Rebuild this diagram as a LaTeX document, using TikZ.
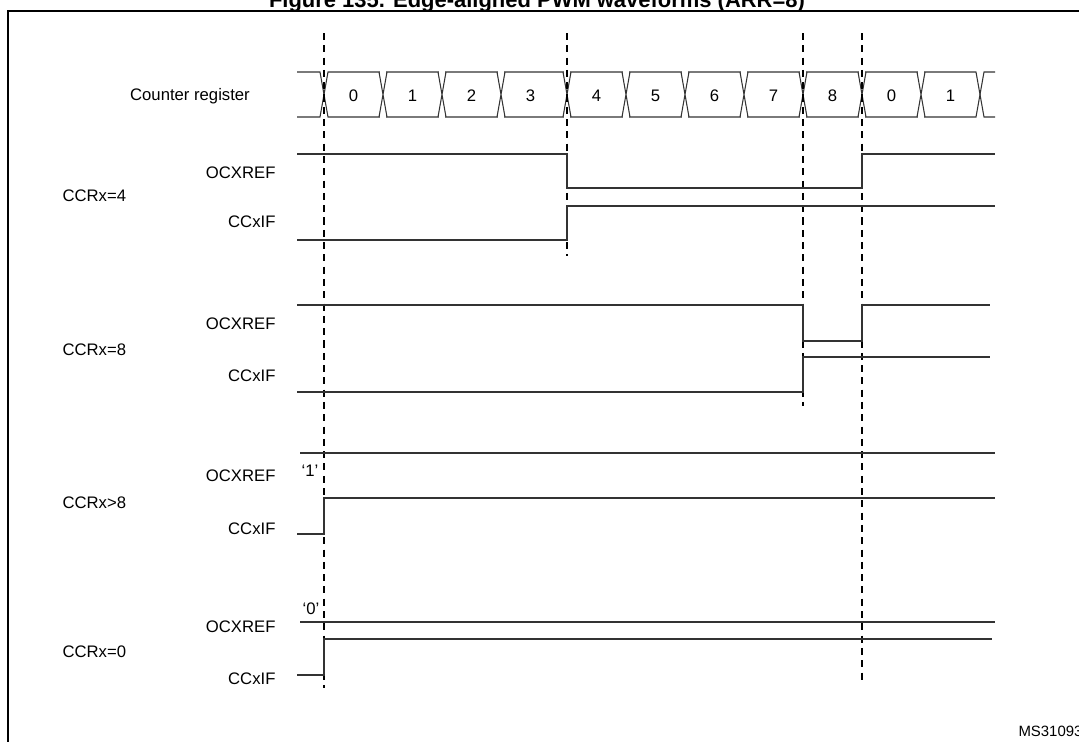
\documentclass[tikz,border=0pt]{standalone}
\usepackage{fontspec}
\setmainfont{Liberation Sans}
\usepackage{tikz}

\begin{document}
\begin{tikzpicture}[x=0.02cm,y=-0.02cm,line width=0.6pt,
  sig/.style={draw=black!80},
  marker/.style={line width=0.6pt,dash pattern=on 4pt off 3pt},
  lbl/.style={font=\fontsize{9.5}{11}\selectfont,inner sep=0pt}]
\useasboundingbox (0,0) rectangle (1079,741);
% frame and title
\draw[line width=0.8pt] (8,760) -- (8,11) -- (1090,11);
\node[font=\bfseries\fontsize{12.5}{14}\selectfont,anchor=base] (title) at (537,7) {Figure 135. Edge-aligned PWM waveforms (ARR=8)};
\node[lbl,font=\fontsize{8.5}{10}\selectfont,anchor=base west] (ref) at (1018,736) {MS31093V1};

% counter register
\node[lbl] (cnt) at (190,96) {Counter register};
\draw[sig] (297,72) -- (320,72) -- (328,117) -- (976,117) -- (984,72) -- (995,72);
\draw[sig] (297,117) -- (320,117) -- (328,72) -- (976,72) -- (984,117) -- (995,117);
\foreach \x/\v in {324/0,383/1,442/2,501/3,567/4,626/5,685/6,744/7,803/8,862/0,921/1} {
  \node[lbl] (c\x) at (\x+29.5,96) {\v};
}
\foreach \x in {383,442,501,567,626,685,744,803,862,921} {
  \draw[white,line width=1.5pt] (\x-3,72) -- (\x+3,72) (\x-3,117) -- (\x+3,117);
  \draw[sig] (\x-4,72) -- (\x+4,117) (\x-4,117) -- (\x+4,72);
}

% dashed markers
\draw[marker] (324,33) -- (324,688);
\draw[marker] (567,33) -- (567,256);
\draw[marker] (803,33) -- (803,406);
\draw[marker] (862,33) -- (862,684);

% CCRx=4
\node[lbl,anchor=west] (g4) at (62,196) {CCRx=4};
\node[lbl,anchor=east] (o4) at (276,173) {OCXREF};
\node[lbl,anchor=east] (f4) at (276,222) {CCxIF};
\draw[sig] (297,154) -- (567,154) -- (567,188) -- (862,188) -- (862,154) -- (995,154);
\draw[sig] (297,240) -- (567,240) -- (567,206) -- (995,206);

% CCRx=8
\node[lbl,anchor=west] (g8) at (62,350) {CCRx=8};
\node[lbl,anchor=east] (o8) at (276,324) {OCXREF};
\node[lbl,anchor=east] (f8) at (276,376) {CCxIF};
\draw[sig] (297,305) -- (803,305) -- (803,341) -- (862,341) -- (862,305) -- (990,305);
\draw[sig] (297,392) -- (803,392) -- (803,357) -- (990,357);

% CCRx>8
\node[lbl,anchor=west] (gg) at (62,503) {CCRx>8};
\node[lbl,anchor=east] (og) at (276,476) {OCXREF};
\node[lbl,anchor=east] (fg) at (276,529) {CCxIF};
\node[lbl] (one) at (310,471) {‘1’};
\draw[sig] (300,453) -- (995,453);
\draw[sig] (297,534) -- (324,534) -- (324,498) -- (995,498);

% CCRx=0
\node[lbl,anchor=west] (g0) at (62,652) {CCRx=0};
\node[lbl,anchor=east] (o0) at (276,627) {OCXREF};
\node[lbl,anchor=east] (f0) at (276,679) {CCxIF};
\node[lbl] (zero) at (311,609) {‘0’};
\draw[sig] (300,622) -- (995,622);
\draw[sig] (297,675) -- (324,675) -- (324,639) -- (992,639);
\end{tikzpicture}
\end{document}
